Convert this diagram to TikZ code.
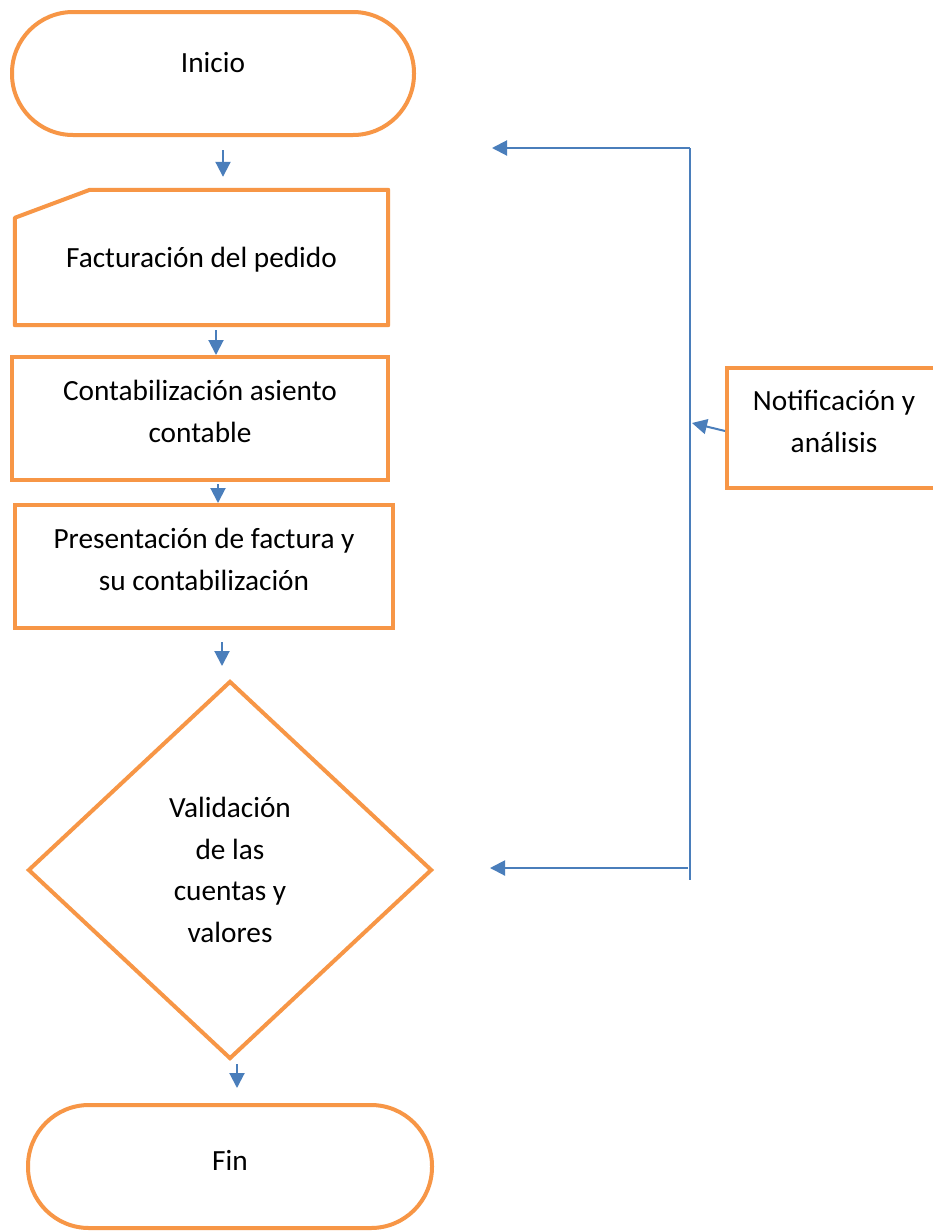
\documentclass[tikz,border=0pt]{standalone}
\usepackage{fontspec}
\setmainfont{Carlito}
\usetikzlibrary{arrows.meta,shapes.geometric}
\definecolor{orng}{HTML}{F79646}
\definecolor{blu}{HTML}{4A7EBB}
\begin{document}
\begin{tikzpicture}[x=1pt,y=-1pt,
  box/.style={draw=orng,line width=4pt,rectangle,inner sep=0pt},
  term/.style={box,rounded corners=61pt},
  ghost/.style={rectangle,inner sep=0pt},
  txt/.style={inner sep=0pt,align=center,font=\fontsize{29.3}{41.5}\selectfont},
  arr/.style={draw=blu,line width=2pt,-{Triangle[length=15pt,width=15pt]}},
  ln/.style={draw=blu,line width=1.5pt}]
\useasboundingbox (0,0) rectangle (933,1232);
\clip (0,0) rectangle (933,1232);
\fill[white] (0,0) rectangle (933,1232);

\node[term,minimum width=402pt,minimum height=123pt] (ini) at (213,73.5) {};
\node[txt] (ini-t) at ([yshift=10.5pt]ini.center) {Inicio};

\node[ghost,minimum width=373pt,minimum height=135pt] (fact) at (201.5,257.5) {};
\draw[orng,line width=4pt,line join=round]
  (fact.south west) -- (fact.south east) -- (fact.north east)
  -- ([xshift=75pt]fact.north west) -- ([yshift=-28pt]fact.north west) -- cycle;
\node[txt] (fact-t) at ([yshift=-2pt]fact.center) {Facturación del pedido};

\node[box,minimum width=376pt,minimum height=123pt] (cont) at (200,418.5) {};
\node[txt] (cont-t) at ([yshift=7pt]cont.center) {Contabilización asiento\\contable};

\node[box,minimum width=378pt,minimum height=123pt] (pres) at (204,566.5) {};
\node[txt] (pres-t) at ([yshift=7pt]pres.center) {Presentación de factura y\\su contabilización};

\node[box,diamond,minimum width=404pt,minimum height=378pt] (val) at (230,870) {};
\node[txt] (val-t) at (val.center) {Validación\\de las\\cuentas y\\valores};

\node[term,minimum width=404pt,minimum height=123pt] (fin) at (230,1166.5) {};
\node[txt] (fin-t) at ([yshift=6pt]fin.center) {Fin};

\node[box,minimum width=214pt,minimum height=120pt] (noti) at (834,428) {};
\node[txt] (noti-t) at ([yshift=6.5pt]noti.center) {Notificación y\\análisis};

\coordinate (rt) at (690,148);
\coordinate (rb) at (690,880);
\coordinate (t1) at (492,148);
\coordinate (b1) at (688,868);
\coordinate (t2) at (490,868);
\coordinate (nj) at (692,423);

\draw[arr] ([xshift=10pt,yshift=-13pt]ini.south) -- ([xshift=21.5pt,yshift=13pt]fact.north);
\draw[arr] ([xshift=14.5pt,yshift=-5pt]fact.south) -- ([xshift=16pt]cont.north);
\draw[arr] ([xshift=18pt,yshift=-2pt]cont.south) -- ([xshift=14pt]pres.north);
\draw[arr] ([xshift=18pt,yshift=-12pt]pres.south) -- ([xshift=-8pt,yshift=13pt]val.north);
\draw[arr] ([xshift=7pt,yshift=-3pt]val.south) -- ([xshift=7pt,yshift=15pt]fin.north);

\draw[ln] (rt) -- (rb);
\draw[arr] (rt) -- (t1);
\draw[arr] (b1) -- (t2);
\draw[arr] ([yshift=-3pt]noti.west) -- (nj);
\end{tikzpicture}
\end{document}
